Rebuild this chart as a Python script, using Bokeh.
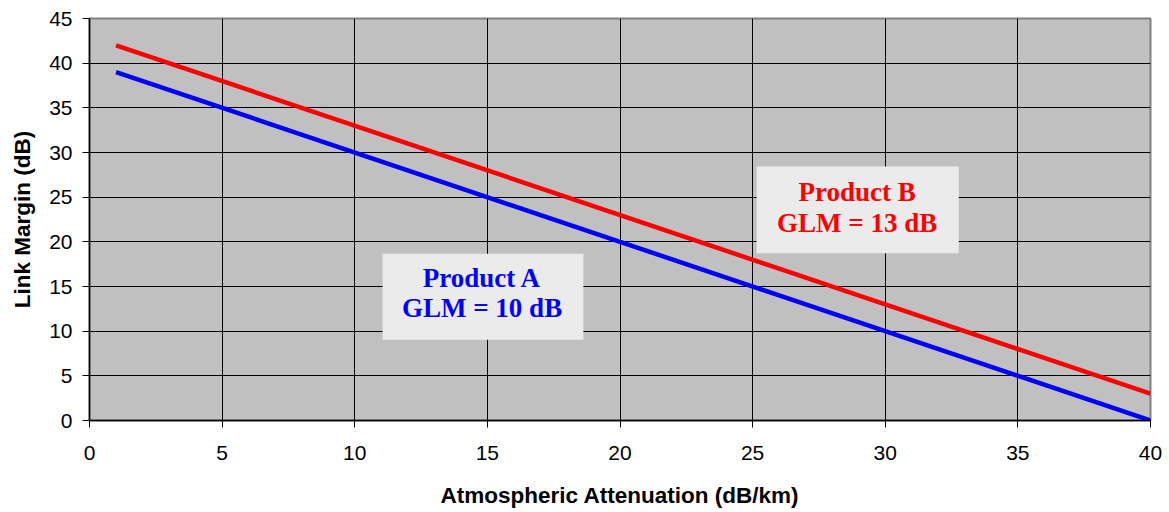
from bokeh.plotting import figure
from bokeh.models import Range1d, FixedTicker, ColumnDataSource
from bokeh.core.properties import value
from bokeh.embed import file_html
from bokeh.resources import INLINE

# Data
attenuation = [1, 40]
margin_a = [39, 0]
margin_b = [42, 3]
x_ticks = [0, 5, 10, 15, 20, 25, 30, 35, 40]
y_ticks = [0, 5, 10, 15, 20, 25, 30, 35, 40, 45]
label_a = ["Product A", "GLM = 10 dB"]
label_b = ["Product B", "GLM = 13 dB"]

p = figure(width=1169, height=512, output_backend="svg", toolbar_location=None,
           x_range=Range1d(0, 40), y_range=Range1d(0, 45),
           min_border_left=89, min_border_right=19, min_border_top=18, min_border_bottom=92)

p.background_fill_color = "#C0C0C0"
p.border_fill_color = "white"
p.outline_line_color = "#808080"
p.outline_line_width = 2

for ax, ticks in ((p.xaxis, x_ticks), (p.yaxis, y_ticks)):
    ax.ticker = FixedTicker(ticks=ticks)
    ax.minor_tick_line_color = None
    ax.major_tick_in = 0
    ax.major_tick_out = 7
    ax.major_tick_line_color = "black"
    ax.axis_line_color = "black"
    ax.axis_line_width = 1.5
    ax.major_label_text_font = "Liberation Sans"
    ax.major_label_text_font_size = "21px"
    ax.major_label_text_color = "black"
    ax.axis_label_text_font = "Liberation Sans"
    ax.axis_label_text_font_size = "22.5px"
    ax.axis_label_text_font_style = "bold"
    ax.axis_label_text_color = "black"

p.xaxis.axis_label = "Atmospheric Attenuation (dB/km)"
p.yaxis.axis_label = "Link Margin (dB)"
p.xaxis.major_label_standoff = 18
p.xaxis.axis_label_standoff = 20
p.yaxis.major_label_standoff = 10
p.yaxis.axis_label_standoff = 11

p.xgrid.ticker = FixedTicker(ticks=x_ticks)
p.ygrid.ticker = FixedTicker(ticks=y_ticks)
p.grid.grid_line_color = "black"
p.grid.grid_line_width = 1

p.line(attenuation, margin_a, line_color="#0000FF", line_width=4.5)
p.line(attenuation, margin_b, line_color="#FF0000", line_width=4.5)

# annotation boxes
p.quad(left=[11.05], right=[18.62], bottom=[9.03], top=[18.66],
       fill_color="#EBEBEB", line_color=None)
p.quad(left=[25.15], right=[32.77], bottom=[18.73], top=[28.43],
       fill_color="#EBEBEB", line_color=None)

src_a = ColumnDataSource(dict(x=[14.8, 14.8], y=[15.9, 12.54], t=label_a))
src_b = ColumnDataSource(dict(x=[28.94, 28.94], y=[25.58, 22.11], t=label_b))
p.text(x="x", y="y", text="t", source=src_a, text_color="#0000FF",
       text_font=value("Liberation Serif"), text_font_style="bold",
       text_font_size="27px", text_align="center", text_baseline="middle")
p.text(x="x", y="y", text="t", source=src_b, text_color="#FF0000",
       text_font=value("Liberation Serif"), text_font_style="bold",
       text_font_size="27px", text_align="center", text_baseline="middle")

open("out.html", "w").write(file_html(p, INLINE))
